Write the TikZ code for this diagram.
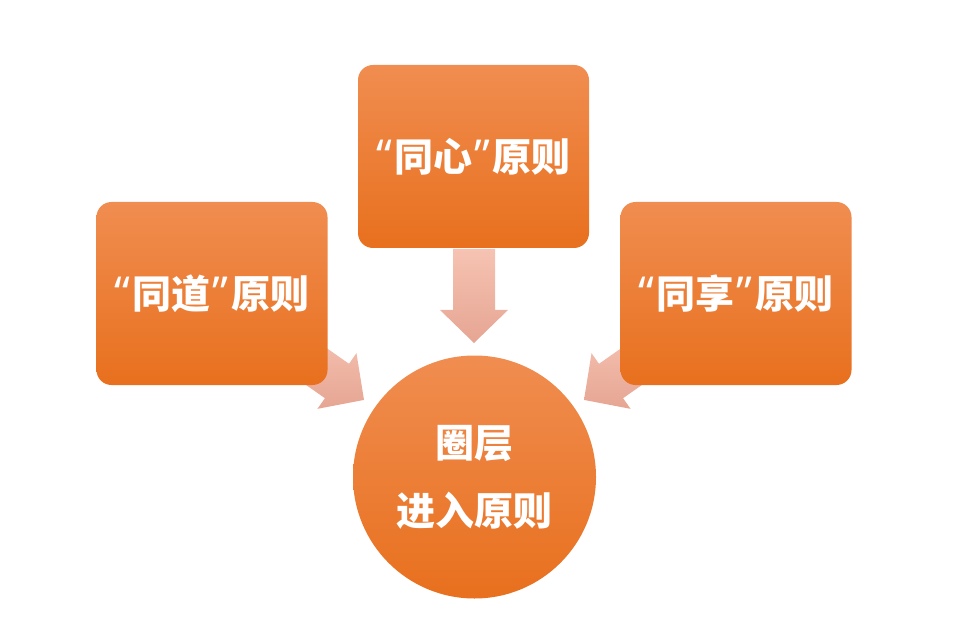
\documentclass[tikz,border=0pt]{standalone}
\usepackage{fontspec}
\newfontfamily\cjk{Noto Sans CJK SC}
\newfontfamily\qf{Noto Sans}
\newcommand\myopenq{{\qf\bfseries\fontsize{44}{40}\selectfont “}\hspace{2pt}}
\newcommand\mycloseq{\hspace{2pt}{\qf\bfseries\fontsize{44}{40}\selectfont ”}\hspace{3pt}}
\definecolor{boxtop}{HTML}{F08D50}
\definecolor{boxbot}{HTML}{E8701E}
\definecolor{arrtop}{HTML}{F6C3B2}
\definecolor{arrbot}{HTML}{E6A593}
\tikzset{
  x=1pt,y=-1pt,
  rulebox/.style={rounded corners=15pt, top color=boxtop, bottom color=boxbot, draw=none,
    minimum width=231pt, minimum height=183pt, inner sep=0pt, text=white,
    font=\cjk\bfseries\fontsize{39}{40}\selectfont},
  hub/.style={circle, top color=boxtop, bottom color=boxbot, draw=none,
    minimum size=243pt, inner sep=0pt, text=white, align=center,
    font=\cjk\bfseries\fontsize{39}{68}\selectfont},
  blockarrow/.style={top color=arrtop, bottom color=arrbot, draw=none}
}
\newcommand\blockarr{(0,-21) -- (61,-21) -- (61,-34) -- (94,0) -- (61,34) -- (61,21) -- (0,21) -- cycle}
\begin{document}
\begin{tikzpicture}
\useasboundingbox (0,0) rectangle (969,644);
% arrows (drawn first, so the boxes cover their tails)
\begin{scope}[shift={(474,249)}, rotate=-90]
  \path[blockarrow] \blockarr;
\end{scope}
\begin{scope}[shift={(287,346)}, rotate=-35]
  \path[blockarrow] \blockarr;
\end{scope}
\begin{scope}[shift={(661,346)}, rotate=-145]
  \path[blockarrow] \blockarr;
\end{scope}
% boxes
\node[rulebox] (top) at (473.5,156.5) {\raisebox{4pt}{\myopenq{}同心\mycloseq{}原则}};
\node[rulebox] (left) at (212,293.5) {\raisebox{4pt}{\myopenq{}同道\mycloseq{}原则}};
\node[rulebox] (right) at (736,293.5) {\raisebox{4pt}{\myopenq{}同享\mycloseq{}原则}};
% hub
\node[hub] (hub) at (474.5,477) {圈层\\进入原则};
\end{tikzpicture}
\end{document}
